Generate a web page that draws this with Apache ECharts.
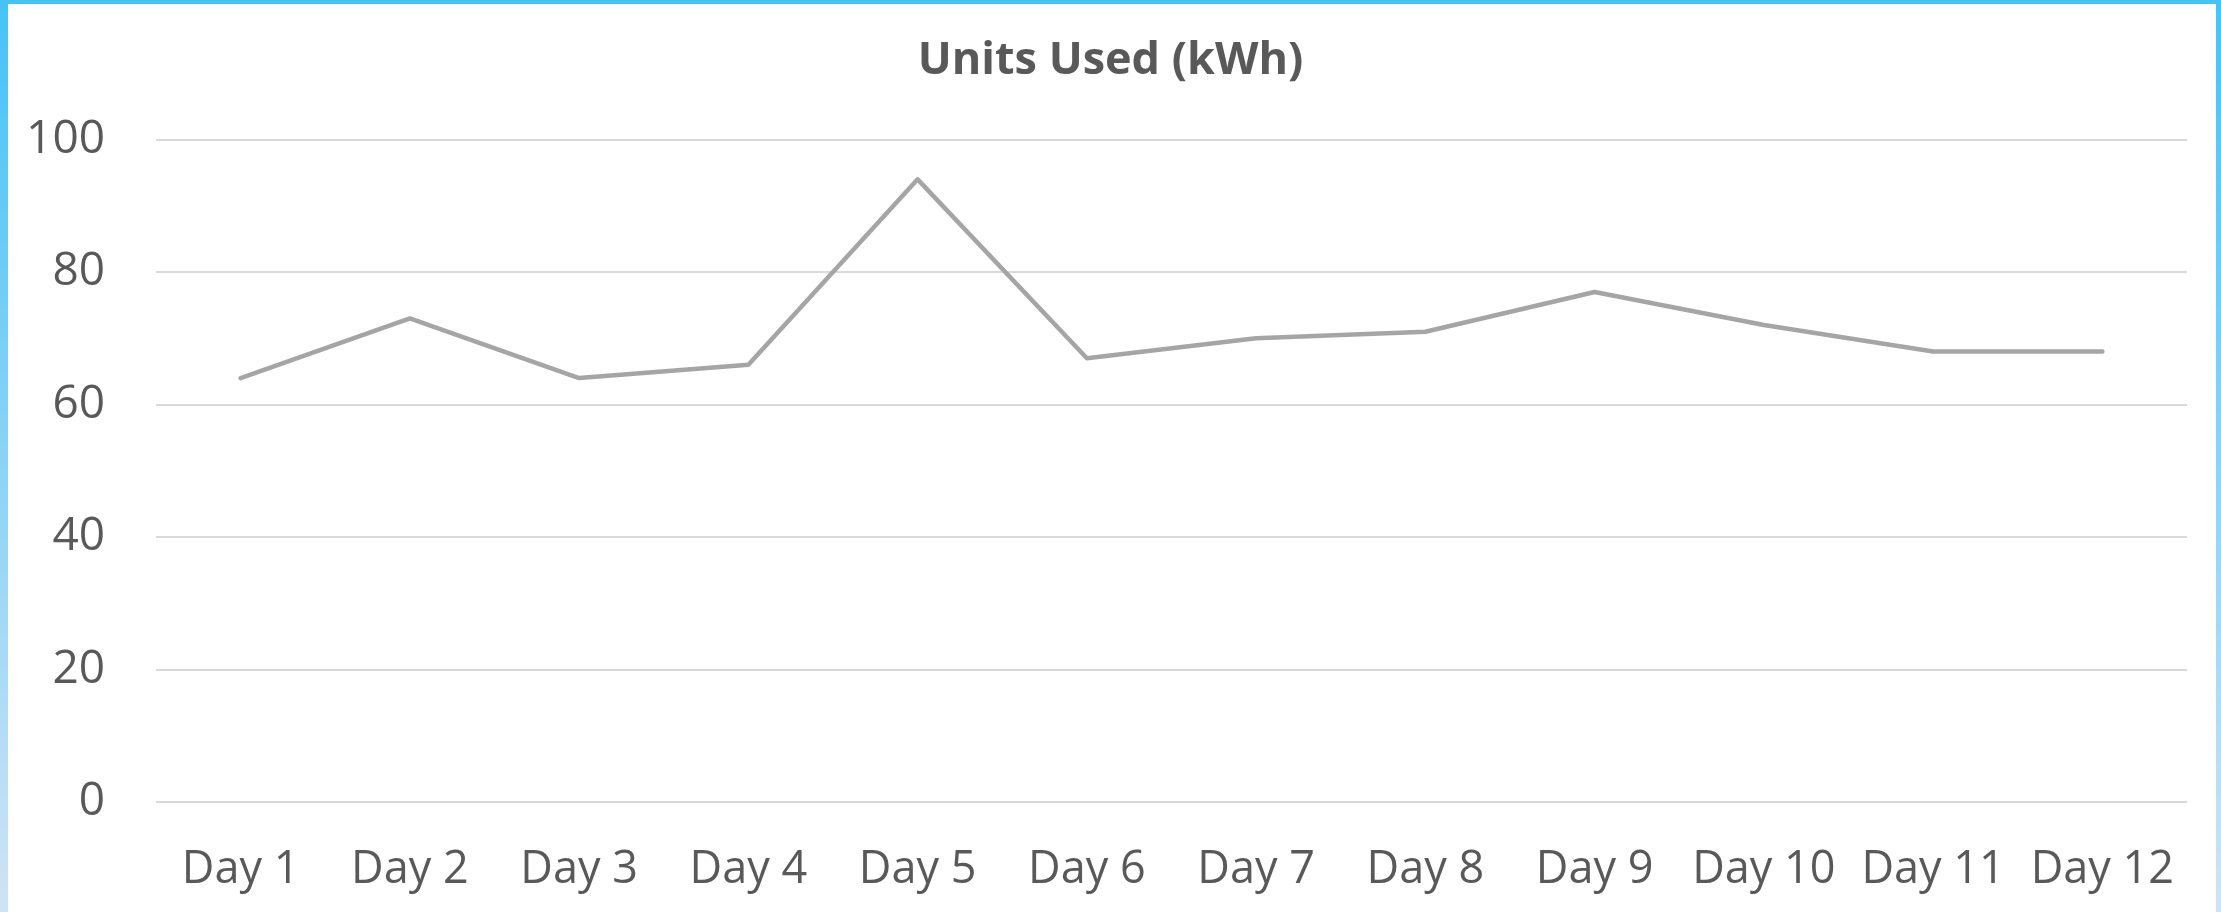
<!DOCTYPE html>
<html>
<head>
<meta charset="utf-8">
<title>Units Used (kWh)</title>
<script src="https://cdn.jsdelivr.net/npm/echarts@6/dist/echarts.min.js"></script>
<style>
	html, body { margin: 0; padding: 0; background: #fff; }
	#chart { width: 2221px; height: 912px; }
</style>
</head>
<body>
<div id="chart"></div>
<script>
// 数据
var days = ['Day 1', 'Day 2', 'Day 3', 'Day 4', 'Day 5', 'Day 6', 'Day 7', 'Day 8', 'Day 9', 'Day 10', 'Day 11', 'Day 12'];
var unitsUsed = [64, 73, 64, 66, 94, 67, 70, 71, 77, 72, 68, 68];
var yTicks = [0, 20, 40, 60, 80, 100];

var font = '"Open Sans", "Noto Sans", sans-serif';
var textColor = '#595959';

var myChart = echarts.init(document.getElementById('chart'));

// 边框（上、左、右）
var frame = [
	{ type: 'rect', left: 0, top: 0, shape: { width: 2221, height: 4 }, style: { fill: '#45C3F5' } },
	{
		type: 'rect', left: 0, top: 0, shape: { width: 8, height: 912 },
		style: { fill: new echarts.graphic.LinearGradient(0, 0, 0, 1, [
			{ offset: 0, color: '#45C3F5' }, { offset: 1, color: '#CFE3F5' }
		]) }
	},
	{
		type: 'rect', left: 2216, top: 0, shape: { width: 5, height: 912 },
		style: { fill: new echarts.graphic.LinearGradient(0, 0, 0, 1, [
			{ offset: 0, color: '#45C3F5' }, { offset: 1, color: '#CFE3F5' }
		]) }
	}
];

var option = {
	animation: false,
	title: {
		text: 'Units Used (kWh)',
		left: 'center',
		top: 34,
		textStyle: { fontFamily: font, fontWeight: 'bold', fontSize: 45, color: textColor }
	},
	grid: { left: 156, right: 34, top: 139.6, bottom: 110 },
	xAxis: {
		type: 'category',
		data: days,
		boundaryGap: true,
		axisLine: { show: false },
		axisTick: { show: false },
		axisLabel: { fontFamily: font, fontSize: 45, color: textColor, margin: 46, interval: 0 }
	},
	yAxis: {
		type: 'value',
		min: yTicks[0],
		max: yTicks[yTicks.length - 1],
		interval: yTicks[1] - yTicks[0],
		axisLine: { show: false },
		axisTick: { show: false },
		axisLabel: { fontFamily: font, fontSize: 46, color: textColor, margin: 51 },
		splitLine: { lineStyle: { color: '#D9D9D9', width: 2 } }
	},
	series: [{
		name: 'Units Used (kWh)',
		type: 'line',
		data: unitsUsed,
		symbol: 'none',
		lineStyle: { color: '#A5A5A5', width: 4.5, cap: 'round', join: 'round' }
	}],
	graphic: frame
};

myChart.setOption(option);
</script>
</body>
</html>
